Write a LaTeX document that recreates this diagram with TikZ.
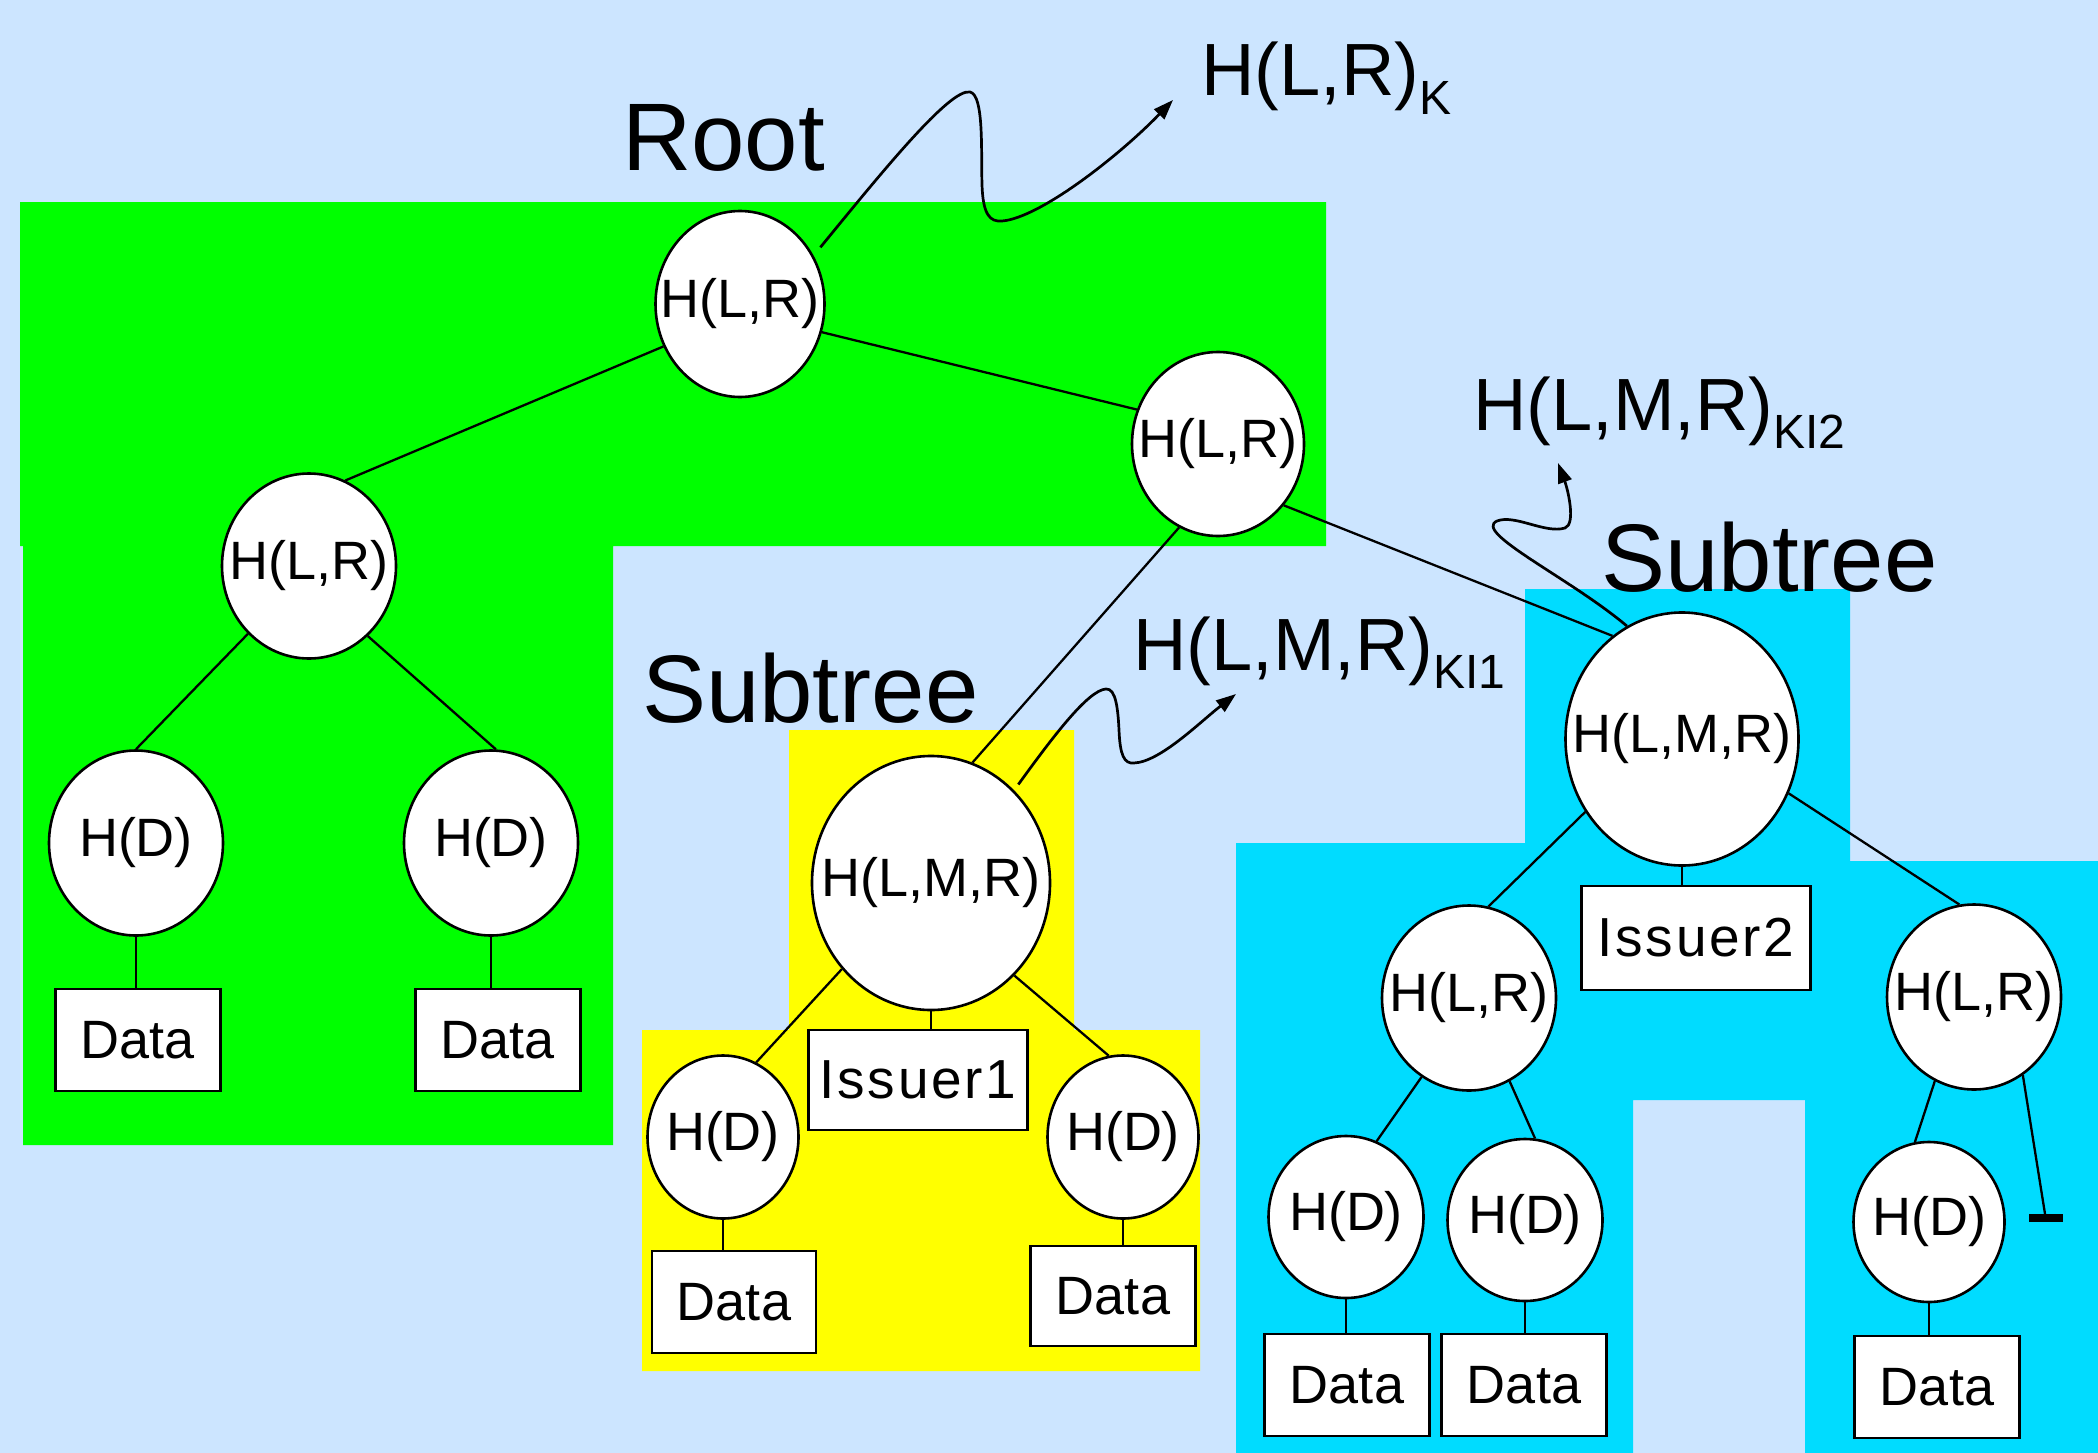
\documentclass[tikz,border=0pt]{standalone}
\usepackage{fontspec}
\setmainfont{Liberation Sans}
\usetikzlibrary{shapes.geometric,arrows.meta}
\definecolor{bgblue}{RGB}{204,229,255}
\definecolor{grn}{RGB}{0,255,0}
\definecolor{ylw}{RGB}{255,255,0}
\definecolor{cyn}{RGB}{0,220,255}
\newcommand\lblsub[1]{\raisebox{-18pt}{\fontsize{48}{48}\selectfont #1}}
\newcommand\ctr[1]{\makebox[0pt]{#1}}
\tikzset{
  hnode/.style={ellipse, draw, fill=white, line width=2.6pt, inner sep=0pt,
    font=\fontsize{54}{60}\selectfont},
  databox/.style={rectangle, draw, fill=white, line width=2.6pt, inner sep=0pt,
    minimum width=165pt, minimum height=102pt, font=\fontsize{54}{60}\selectfont},
  issbox/.style={rectangle, draw, fill=white, line width=2.6pt, inner sep=0pt,
    font=\fontsize{55}{60}\selectfont\addfontfeatures{LetterSpace=5}},
  edge/.style={line width=2.3pt},
  squig/.style={line width=2.7pt, -{Triangle[length=20pt,width=14pt]}},
  titletext/.style={font=\fontsize{96}{110}\selectfont, inner sep=0pt, anchor=base west},
  hashlbl/.style={font=\fontsize{74}{80}\selectfont, inner sep=0pt, anchor=base west}
}
\begin{document}
\begin{tikzpicture}[x=1pt,y=-1pt]
\useasboundingbox (0,0) rectangle (2098,1453);
\fill[bgblue] (0,0) rectangle (2098,1453);
% coloured regions
\fill[grn] (20,202) -- (1326,202) -- (1326,546) -- (613,546) -- (613,1145) -- (23,1145) -- (23,546) -- (20,546) -- cycle;
\fill[ylw] (789,730) -- (1074,730) -- (1074,1030) -- (1200,1030) -- (1200,1371) -- (642,1371) -- (642,1030) -- (789,1030) -- cycle;
\fill[cyn] (1525,589) -- (1850,589) -- (1850,861) -- (2098,861) -- (2098,1453) -- (1805,1453) -- (1805,1100) -- (1633,1100) -- (1633,1453) -- (1236,1453) -- (1236,843) -- (1525,843) -- cycle;

% titles
\node[titletext] (troot) at (622,170) {Root};
\node[titletext] (tsub1) at (642,722) {Subtree};
\node[titletext] (tsub2) at (1601,591) {Subtree};

% labels
\node[hashlbl] (lk) at (1201,96) {H(L,R)\lblsub{K}};
\node[hashlbl] (lki1) at (1133,670) {H(L,M,R)\lblsub{KI1}};
\node[hashlbl] (lki2) at (1473,430) {H(L,M,R)\lblsub{KI2}};

% green tree
\node[hnode, minimum width=169pt, minimum height=186pt] (root) at (740,304) {\ctr{H(L,R)}};
\node[hnode, minimum width=174pt, minimum height=185pt] (gl) at (309,566) {\ctr{H(L,R)}};
\node[hnode, minimum width=172pt, minimum height=184pt] (gr) at (1218,444) {\ctr{H(L,R)}};
\node[hnode, minimum width=174pt, minimum height=185pt] (hd1) at (136,843) {\ctr{H(D)}};
\node[hnode, minimum width=174pt, minimum height=185pt] (hd2) at (491,843) {\ctr{H(D)}};
\node[databox] (d1) at (138,1040) {Data};
\node[databox] (d2) at (498,1040) {Data};

% yellow subtree
\node[hnode, minimum width=238pt, minimum height=254pt] (ylmr) at (931,883) {\ctr{H(L,M,R)}};
\node[issbox, minimum width=219pt, minimum height=100pt] (iss1) at (918,1080) {Issuer1};
\node[hnode, minimum width=151pt, minimum height=163pt] (yhd1) at (723,1137) {\ctr{H(D)}};
\node[hnode, minimum width=151pt, minimum height=163pt] (yhd2) at (1123,1137) {\ctr{H(D)}};
\node[databox, minimum width=164pt] (yd1) at (734,1302) {Data};
\node[databox, minimum height=100pt] (yd2) at (1113,1296) {Data};

% cyan subtree
\node[hnode, minimum width=233pt, minimum height=253pt] (clmr) at (1682,739) {\ctr{H(L,M,R)}};
\node[issbox, minimum width=229pt, minimum height=104pt] (iss2) at (1696,938) {Issuer2};
\node[hnode, minimum width=174pt, minimum height=185pt] (cl) at (1469,998) {\ctr{H(L,R)}};
\node[hnode, minimum width=174pt, minimum height=185pt] (cr) at (1974,997) {\ctr{H(L,R)}};
\node[hnode, minimum width=155pt, minimum height=162pt] (chd1) at (1346,1217) {\ctr{H(D)}};
\node[hnode, minimum width=155pt, minimum height=162pt] (chd2) at (1525,1220) {\ctr{H(D)}};
\node[hnode, minimum width=151pt, minimum height=160pt] (chd3) at (1929,1222) {\ctr{H(D)}};
\node[databox] (cd1) at (1347,1385) {Data};
\node[databox] (cd2) at (1524,1385) {Data};
\node[databox] (cd3) at (1937,1387) {Data};
\coordinate (nil) at (2045,1214);

% edges
\draw[edge] (root.-151) -- (gl.67);
\draw[edge] (root.-19) -- (gr.157);
\draw[edge] (gl.-132) -- (hd1.90);
\draw[edge] (gl.-50) -- (hd2.87);
\draw[edge] (hd1.south) -- (hd1.south |- d1.north);
\draw[edge] (hd2.south) -- (hd2.south |- d2.north);
\draw[edge] (gr.-115) -- (ylmr.71);
\draw[edge] (gr.-43) -- (clmr.124);
\draw[edge] (ylmr.224) -- (yhd1.66);
\draw[edge] (ylmr.-48) -- (yhd2.100);
\draw[edge] (ylmr.south) -- (ylmr.south |- iss1.north);
\draw[edge] (yhd1.south) -- (yhd1.south |- yd1.north);
\draw[edge] (yhd2.south) -- (yhd2.south |- yd2.north);
\draw[edge] (clmr.217) -- (cl.78);
\draw[edge] (clmr.-27) -- (cr.99);
\draw[edge] (clmr.south) -- (clmr.south |- iss2.north);
\draw[edge] (cl.239) -- (chd1.68);
\draw[edge] (cl.-64) -- (chd2.83);
\draw[edge] (cr.245) -- (chd3.100);
\draw[edge] (cr.-58) -- (nil);
\draw[line width=8pt] ([shift={(-16,4)}]nil) -- ([shift={(18,4)}]nil);
\draw[edge] (chd1.south) -- (chd1.south |- cd1.north);
\draw[edge] (chd2.south) -- (chd2.south |- cd2.north);
\draw[edge] (chd3.south) -- (chd3.south |- cd3.north);

% signature squiggles
\coordinate (tipK) at (1173,100);
\coordinate (tip1) at (1236,694);
\coordinate (tip2) at (1558,463);
\draw[squig] ([shift={(8,-6)}]root.35) .. controls (882,172) and (950,88) .. (970,92) .. controls (984,95) and (981,150) .. (982,185) .. controls (983,215) and (990,222) .. (1002,221) .. controls (1040,218) and (1120,155) .. (tipK);
\draw[squig] ([shift={(4,-6)}]ylmr.48) .. controls (1052,738) and (1088,690) .. (1106,689) .. controls (1116,688) and (1118,710) .. (1119,730) .. controls (1120,755) and (1124,764) .. (1134,763) .. controls (1160,762) and (1200,722) .. (tip1);
\draw[squig] (clmr.116) .. controls (1570,578) and (1472,532) .. (1497,521) .. controls (1515,514) and (1545,534) .. (1565,528) .. controls (1576,524) and (1568,490) .. (tip2);
\end{tikzpicture}
\end{document}
